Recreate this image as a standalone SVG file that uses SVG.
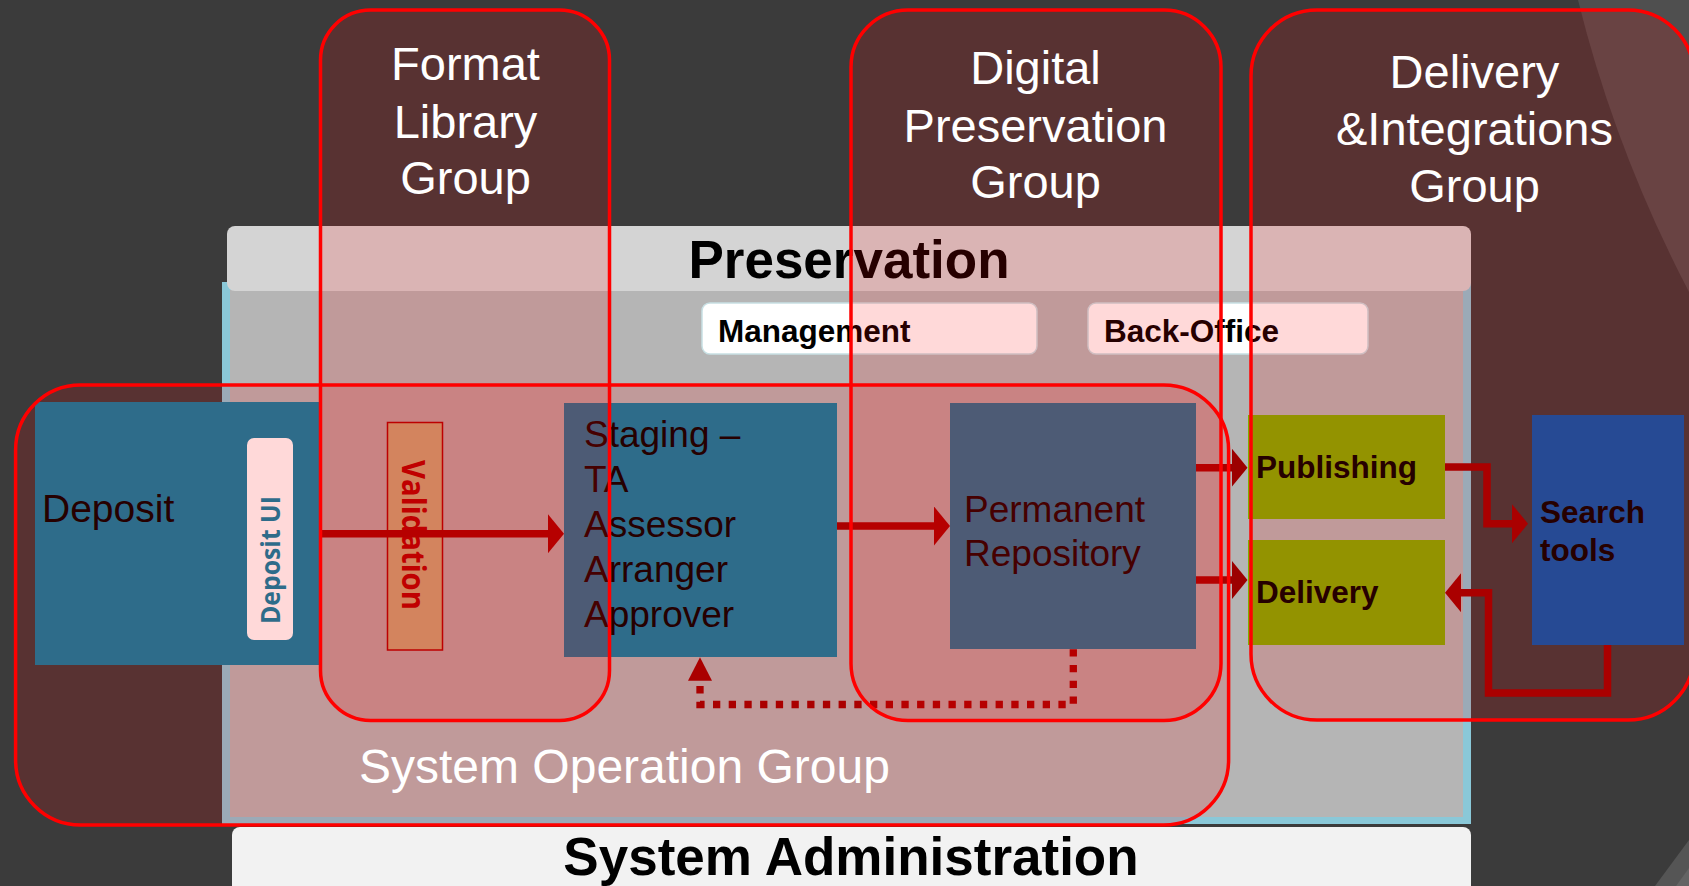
<svg xmlns="http://www.w3.org/2000/svg" width="1689" height="886" viewBox="0 0 1689 886">
  <defs>
    <style>
      .lbl { font-family: "Liberation Sans", Arial, sans-serif; fill: #ffffff; font-size: 48px; }
      .glbl { font-family: "Liberation Sans", Arial, sans-serif; fill: #ffffff; font-size: 47px; text-anchor: middle; }
      .node-txt { font-family: "Liberation Sans", Arial, sans-serif; fill: #000000; font-size: 37px; }
      .dep-txt { font-family: "Liberation Sans", Arial, sans-serif; fill: #000000; font-size: 39px; }
      .bold-txt { font-family: "Liberation Sans", Arial, sans-serif; fill: #000000; font-size: 31.5px; font-weight: bold; }
      .band-txt { font-family: "Liberation Sans", Arial, sans-serif; fill: #000000; font-weight: bold; text-anchor: middle; }
      .blue { fill: #0a7fa3; }
      .olive { fill: #80ad00; }
      .pill { fill: #ffffff; stroke: #c8e0e4; stroke-width: 1.5; }
      .cluster { fill: #ff0000; fill-opacity: 0.15; stroke: #ff0000; stroke-width: 3.5; }
      .conn { fill: none; stroke: #9c0000; stroke-width: 7.5; stroke-linejoin: miter; }
      .dotted { fill: none; stroke: #9c0000; stroke-width: 7.3; stroke-dasharray: 7.3 8.4; }
    </style>
    <marker id="head" viewBox="0 0 16 39" refX="10" refY="19.5" markerWidth="16" markerHeight="39" markerUnits="userSpaceOnUse" orient="auto">
      <path d="M0,0 L16,19.5 L0,39 Z" fill="#9c0000"/>
    </marker>
    <marker id="headDot" viewBox="0 0 23.4 24" refX="5.7" refY="12" markerWidth="23.4" markerHeight="24" markerUnits="userSpaceOnUse" orient="auto">
      <path d="M0,0 L23.4,12 L0,24 Z" fill="#9c0000"/>
    </marker>
  </defs>

  <!-- background -->
  <rect x="0" y="0" width="1689" height="886" fill="#3b3b3b"/>
  <path d="M1578,0 Q1615,150 1689,292 L1689,0 Z" fill="#4f4f4f"/>
  <path d="M1655,886 L1689,840 L1689,886 Z" fill="#555555"/>
  <path d="M1676,886 L1689,868 L1689,886 Z" fill="#646464"/>

  <!-- layers / bands -->
  <g id="preservation-body">
    <rect x="222" y="282" width="1249" height="542" fill="#8ac8d8"/>
    <rect x="230" y="290" width="1233" height="527" fill="#b5b5b5"/>
  </g>
  <g id="preservation-band">
    <rect x="227" y="226" width="1244" height="65" rx="8" fill="#d4d4d4"/>
    <text class="band-txt" x="849" y="278" font-size="53">Preservation</text>
  </g>
  <g id="system-administration">
    <rect x="232" y="827" width="1239" height="80" rx="8" fill="#f2f2f2"/>
    <text class="band-txt" x="851" y="875" font-size="53">System Administration</text>
  </g>

  <g id="management">
    <rect class="pill" x="702" y="303" width="335" height="51" rx="8"/>
    <text class="bold-txt" x="718" y="342">Management</text>
  </g>
  <g id="back-office">
    <rect class="pill" x="1088" y="303" width="280" height="51" rx="8"/>
    <text class="bold-txt" x="1104" y="342">Back-Office</text>
  </g>

  <!-- nodes -->
  <g id="deposit">
    <rect class="blue" x="35" y="402" width="285" height="263"/>
    <text class="dep-txt" x="42" y="522">Deposit</text>
  </g>
  <g id="deposit-ui">
    <rect x="247" y="438" width="46" height="202" rx="7" fill="#ffffff"/>
    <text transform="translate(280,560) rotate(-90)" x="0" y="0" text-anchor="middle" font-family="'Open Sans', 'DejaVu Sans', sans-serif" font-weight="bold" font-size="27" fill="#0a7fa3" textLength="128" lengthAdjust="spacingAndGlyphs">Deposit UI</text>
  </g>
  <g id="validation">
    <rect x="387.5" y="422.5" width="55" height="227.5" fill="#c3b883" stroke="#a50000" stroke-width="1.5"/>
    <text transform="translate(402,535) rotate(90)" x="0" y="0" text-anchor="middle" font-family="'Open Sans', 'DejaVu Sans', sans-serif" font-weight="bold" font-size="32" fill="#a80000" textLength="150" lengthAdjust="spacingAndGlyphs">Validation</text>
  </g>
  <g id="staging">
    <rect class="blue" x="564" y="403" width="273" height="254"/>
    <text class="node-txt" x="584" y="446.5">Staging –</text>
    <text class="node-txt" x="584" y="491.5">TA</text>
    <text class="node-txt" x="584" y="536.5">Assessor</text>
    <text class="node-txt" x="584" y="581.5">Arranger</text>
    <text class="node-txt" x="584" y="626.5">Approver</text>
  </g>
  <g id="permanent-repository">
    <rect class="blue" x="950" y="403" width="246" height="246"/>
    <text class="node-txt" x="964" y="521.5">Permanent</text>
    <text class="node-txt" x="964" y="565.5">Repository</text>
  </g>
  <g id="publishing">
    <rect class="olive" x="1248" y="415" width="197" height="104"/>
    <text class="bold-txt" x="1256" y="478">Publishing</text>
  </g>
  <g id="delivery">
    <rect class="olive" x="1248" y="540" width="197" height="105"/>
    <text class="bold-txt" x="1256" y="603">Delivery</text>
  </g>
  <g id="search-tools">
    <rect x="1532" y="415" width="152" height="230" fill="#0057ae"/>
    <text class="bold-txt" x="1540" y="522.5">Search</text>
    <text class="bold-txt" x="1540" y="560.5">tools</text>
  </g>

  <!-- connectors -->
  <g id="connectors">
    <path class="conn" d="M320,533.7 H558" marker-end="url(#head)"/>
    <path class="conn" d="M837,526 H944" marker-end="url(#head)"/>
    <path class="conn" d="M1196,467.7 H1241.5" marker-end="url(#head)"/>
    <path class="conn" d="M1196,580 H1241.5" marker-end="url(#head)"/>
    <path class="conn" d="M1445,467 H1487 V523.7 H1522" marker-end="url(#head)"/>
    <path class="conn" d="M1607.5,645 V693 H1488.5 V592.7 H1451" marker-end="url(#head)"/>
    <path class="dotted" d="M1073.3,649.3 V704.5 H700 V675" marker-end="url(#headDot)"/>
  </g>

  <!-- organisational groups (translucent overlays) -->
  <g id="system-operation-group">
    <rect class="cluster" x="15.6" y="385" width="1213" height="440" rx="65"/>
    <text class="lbl" x="359" y="783">System Operation Group</text>
  </g>
  <g id="format-library-group">
    <rect class="cluster" x="320.5" y="10" width="289" height="710.5" rx="50"/>
    <text class="glbl" x="465.5" y="80">Format</text>
    <text class="glbl" x="465.5" y="137.5">Library</text>
    <text class="glbl" x="465.5" y="194">Group</text>
  </g>
  <g id="digital-preservation-group">
    <rect class="cluster" x="851" y="10" width="370" height="710.5" rx="57"/>
    <text class="glbl" x="1035.5" y="83.5">Digital</text>
    <text class="glbl" x="1035.5" y="141.5">Preservation</text>
    <text class="glbl" x="1035.5" y="198">Group</text>
  </g>
  <g id="delivery-integrations-group">
    <rect class="cluster" x="1251" y="10" width="443" height="710" rx="66"/>
    <text class="glbl" x="1474.5" y="88">Delivery</text>
    <text class="glbl" x="1474.5" y="145">&amp;Integrations</text>
    <text class="glbl" x="1474.5" y="202">Group</text>
  </g>
</svg>
